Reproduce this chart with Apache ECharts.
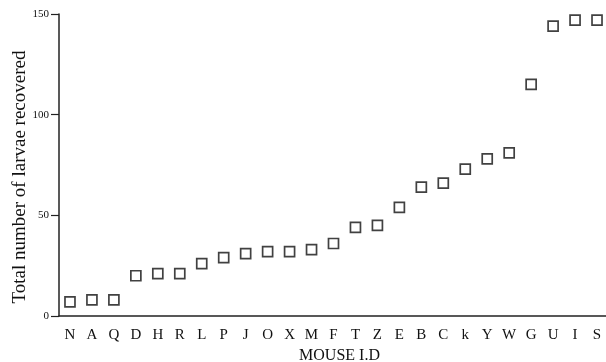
<!DOCTYPE html>
<html>
<head>
<meta charset="utf-8">
<script src="https://cdn.jsdelivr.net/npm/echarts@6/dist/echarts.min.js"></script>
<style>
  html, body { margin: 0; padding: 0; background: #fff; }
  #chart { width: 606px; height: 362px; }
</style>
</head>
<body>
<div id="chart"></div>
<script>
// mouse ids along the x axis
const mice = ['N', 'A', 'Q', 'D', 'H', 'R', 'L', 'P', 'J', 'O', 'X', 'M',
  'F', 'T', 'Z', 'E', 'B', 'C', 'k', 'Y', 'W', 'G', 'U', 'I', 'S'];
// total larvae recovered per mouse
const larvae = [7, 8, 8, 20, 21, 21, 26, 29, 31, 32, 32, 33,
  36, 44, 45, 54, 64, 66, 73, 78, 81, 115, 144, 147, 147];
const yTicks = [0, 50, 100, 150];

const font = 'Liberation Serif';
const chart = echarts.init(document.getElementById('chart'));

const option = {
  animation: false,
  backgroundColor: '#fff',
  grid: { left: 59, right: -2, top: 14, bottom: 46, containLabel: false, outerBoundsMode: 'none' },
  xAxis: {
    type: 'category',
    data: mice,
    boundaryGap: true,
    name: 'MOUSE I.D',
    nameLocation: 'middle',
    nameGap: 32,
    nameMoveOverlap: false,
    nameTextStyle: { fontFamily: font, fontSize: 16, color: '#111', padding: [0, 0, 0, 12] },
    axisLine: { lineStyle: { color: '#222', width: 1.5 } },
    axisTick: { alignWithLabel: true, length: 6, lineStyle: { color: '#222', width: 1.2 } },
    axisLabel: { fontFamily: font, fontSize: 15, color: '#111', margin: 12, interval: 0 },
    splitLine: { show: false }
  },
  yAxis: {
    type: 'value',
    min: yTicks[0],
    max: yTicks[yTicks.length - 1],
    interval: 50,
    name: 'Total number of larvae recovered',
    nameLocation: 'middle',
    nameGap: 29,
    nameMoveOverlap: false,
    nameRotate: 90,
    nameTextStyle: { fontFamily: font, fontSize: 19, color: '#111', padding: [0, 24, 0, 0] },
    axisLine: { show: true, lineStyle: { color: '#222', width: 1.5 } },
    axisTick: { show: true, length: 8, lineStyle: { color: '#222', width: 1.2 } },
    axisLabel: { fontFamily: font, fontSize: 11, color: '#111', margin: 10 },
    splitLine: { show: false }
  },
  series: [{
    type: 'scatter',
    data: larvae,
    symbol: 'rect',
    symbolSize: 10,
    itemStyle: { color: '#fff', borderColor: '#111', borderWidth: 1.7 }
  }]
};

chart.setOption(option);
</script>
</body>
</html>
